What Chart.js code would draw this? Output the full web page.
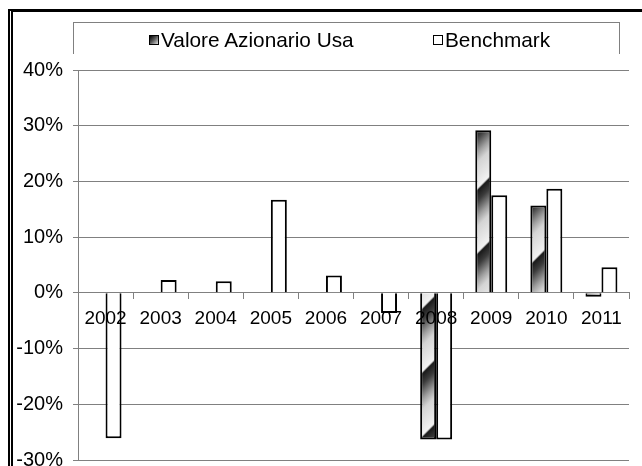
<!DOCTYPE html>
<html>
<head>
<meta charset="utf-8">
<script src="https://cdn.jsdelivr.net/npm/chart.js@4.4.0/dist/chart.umd.min.js"></script>
<style>
html, body { margin: 0; padding: 0; background: #fff; overflow: hidden; width: 642px; height: 466px; }
#frame { position: absolute; left: 8px; top: 9px; width: 700px; height: 520px; border-top: 3px solid #000; border-left: 5px double #000; }
#chart { position: absolute; left: 0; top: 0; }
#legend { position: absolute; left: 73px; top: 22px; width: 545px; height: 31px; border: 1px solid #808080; border-bottom: none; font: 20.8px "Liberation Sans", Arial, sans-serif; }
.item { position: absolute; top: 7px; height: 20px; line-height: 20px; display: flex; align-items: center; white-space: nowrap; }
.box { width: 8px; height: 8px; border: 1px solid #000; margin-right: 2px; }
</style>
</head>
<body>
<div id="frame"></div>
<canvas id="chart" width="642" height="482"></canvas>
<div id="legend"></div>
<script>
// data (percent)
const years = ['2002', '2003', '2004', '2005', '2006', '2007', '2008', '2009', '2010', '2011'];
const seriesNames = ['Valore Azionario Usa', 'Benchmark'];
const valore = [null, null, null, null, null, null, -26.3, 29.2, 15.7, -0.7];
const benchmark = [-26.1, 2.3, 2.1, 16.7, 3.1, -3.6, -26.3, 17.5, 18.7, 4.6];
const yTicks = [-30, -20, -10, 0, 10, 20, 30, 40];

// metallic diagonal fill for the first series
function stripes() {
    const s = 64;
    const c = document.createElement('canvas');
    c.width = s; c.height = s;
    const g = c.getContext('2d');
    const grad = g.createLinearGradient(0, 0, s, s);
    const stops = [[0, '#d4d4d4'], [0.2, '#f2f2f2'], [0.22, '#1a1a1a'], [0.3, '#3c3c3c'], [0.42, '#a0a0a0'], [0.499, '#d4d4d4']];
    for (let r = 0; r < 2; r++) {
        stops.forEach(([t, col]) => grad.addColorStop(r * 0.5 + t, col));
    }
    g.fillStyle = grad;
    g.fillRect(0, 0, s, s);
    return g.createPattern(c, 'repeat');
}

const fam = '"Liberation Sans", Arial, sans-serif';

const ctx = document.getElementById('chart').getContext('2d');
new Chart(ctx, {
    type: 'bar',
    data: {
        labels: years,
        datasets: [{
            label: seriesNames[0],
            data: valore,
            backgroundColor: stripes(),
            borderColor: '#000',
            borderWidth: 2
        }, {
            label: seriesNames[1],
            data: benchmark,
            backgroundColor: '#fff',
            borderColor: '#000',
            borderWidth: 2
        }]
    },
    options: {
        responsive: false,
        animation: false,
        events: [],
        layout: { padding: { left: 0, right: 13, top: 70, bottom: 12 } },
        datasets: { bar: { categoryPercentage: 0.58, barPercentage: 1.0 } },
        plugins: { legend: { display: false }, tooltip: { enabled: false } },
        scales: {
            x: {
                position: { y: 0 },
                grid: { drawOnChartArea: false, drawTicks: true, tickLength: 6, color: '#808080', offset: true },
                border: { display: true, color: '#808080', width: 1 },
                ticks: { z: 1, color: '#000', font: { family: fam, size: 19 }, padding: 9, maxRotation: 0, autoSkip: false }
            },
            y: {
                min: yTicks[0],
                max: yTicks[yTicks.length - 1],
                afterFit: s => { s.width = 78; },
                afterBuildTicks: s => { s.ticks = yTicks.map(v => ({ value: v })); },
                grid: { color: '#808080', lineWidth: 1, tickLength: 5 },
                border: { display: true, color: '#808080' },
                ticks: { color: '#000', font: { family: fam, size: 20 }, padding: 10, callback: v => v + '%' }
            }
        }
    }
});

// legend built from the series names
const leg = document.getElementById('legend');
const fills = ['linear-gradient(135deg, #000 0%, #555 45%, #ddd 100%)', '#fff'];
const lefts = [75, 359];
seriesNames.forEach((n, i) => {
    const it = document.createElement('div');
    it.className = 'item';
    it.style.left = lefts[i] + 'px';
    const b = document.createElement('span');
    b.className = 'box';
    b.style.background = fills[i];
    const t = document.createElement('span');
    t.textContent = n;
    it.appendChild(b);
    it.appendChild(t);
    leg.appendChild(it);
});
</script>
</body>
</html>
